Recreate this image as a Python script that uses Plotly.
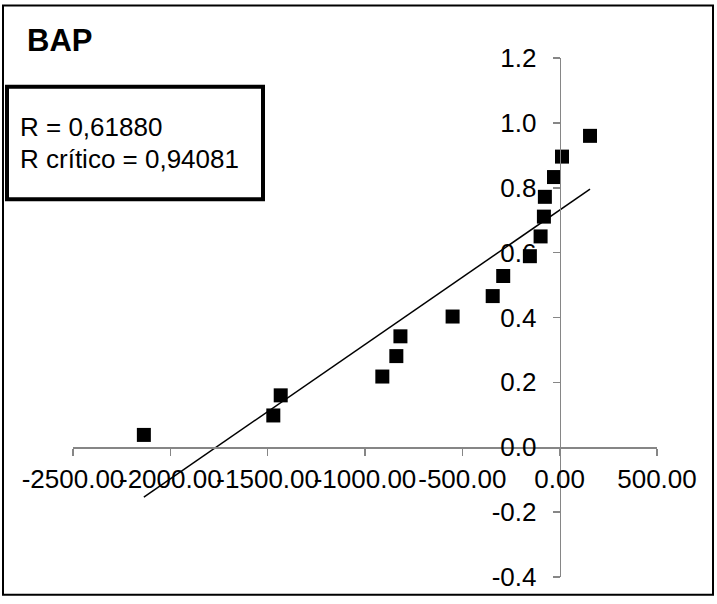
import numpy as np
import plotly.graph_objects as go

# ---- data ----
x_values = [-2136, -1471, -1433, -911, -839, -818, -550, -344, -290, -153,
            -98, -81, -76, -29, 12, 156]
y_values = [0.038, 0.098, 0.160, 0.218, 0.281, 0.342, 0.403, 0.466, 0.528,
            0.589, 0.650, 0.711, 0.772, 0.833, 0.896, 0.960]

x_tick_vals = [-2500, -2000, -1500, -1000, -500, 0, 500]
x_tick_text = ["-2500.00", "-2000.00", "-1500.00", "-1000.00", "-500.00", "0.00", "500.00"]
y_tick_vals = [-0.4, -0.2, 0.0, 0.2, 0.4, 0.6, 0.8, 1.0, 1.2]
y_tick_text = ["-0.4", "-0.2", "0.0", "0.2", "0.4", "0.6", "0.8", "1.0", "1.2"]

title_text = "BAP"
stats_lines = ["R = 0,61880", "R crítico = 0,94081"]

# ---- layout geometry (pixels) ----
W, H = 717, 604
L, R, T, B = 73, 60, 58, 21
PW, PH = W - L - R, H - T - B
XR = [-2500, 500]
YR = [-0.4, 1.2]


def px(xp):
    return (xp - L) / PW


def py(yp):
    return (H - B - yp) / PH


FONT = "Liberation Sans, Arial, sans-serif"
AXC = "#868686"

# linear trend from the data
slope, intercept = np.polyfit(x_values, y_values, 1)
x_line = [min(x_values), max(x_values)]
y_line = [slope * v + intercept for v in x_line]

fig = go.Figure()
fig.add_trace(go.Scatter(x=x_line, y=y_line, mode="lines",
                         line=dict(color="black", width=1.5),
                         showlegend=False, hoverinfo="skip"))
fig.add_trace(go.Scatter(x=x_values, y=y_values, mode="markers",
                         marker=dict(symbol="square", size=14, color="black",
                                     line=dict(width=0)),
                         showlegend=False))

fig.update_layout(
    width=W, height=H,
    margin=dict(l=L, r=R, t=T, b=B, pad=0),
    paper_bgcolor="white", plot_bgcolor="white",
    font=dict(family=FONT, color="black", size=26),
    xaxis=dict(range=XR, tickvals=x_tick_vals, ticktext=x_tick_text,
               tickangle=0, showgrid=False, zeroline=False,
               showline=True, linecolor=AXC, linewidth=1.5,
               ticks="outside", ticklen=7, tickcolor=AXC, tickwidth=1.5,
               anchor="free", position=(0 - YR[0]) / (YR[1] - YR[0]),
               tickfont=dict(size=26, family=FONT, color="black"),
               ticklabelstandoff=1),
    yaxis=dict(range=YR, tickvals=y_tick_vals, ticktext=y_tick_text,
               showgrid=False, zeroline=False,
               showline=True, linecolor=AXC, linewidth=1.5,
               ticks="outside", ticklen=7, tickcolor=AXC, tickwidth=1.5,
               anchor="free", position=(0 - XR[0]) / (XR[1] - XR[0]),
               side="left",
               tickfont=dict(size=26, family=FONT, color="black"),
               ticklabelstandoff=11),
)

# outer frame
fig.add_shape(type="rect", xref="paper", yref="paper",
              x0=px(3), x1=px(713), y0=py(601), y1=py(5),
              line=dict(color="black", width=2), layer="above")
# stats box
fig.add_shape(type="rect", xref="paper", yref="paper",
              x0=px(7), x1=px(263), y0=py(201), y1=py(87),
              line=dict(color="black", width=4), fillcolor="white", layer="above")

fig.add_annotation(text="<b>%s</b>" % title_text, xref="paper", yref="paper",
                   x=px(25), y=py(40), xanchor="left", yanchor="middle",
                   showarrow=False, font=dict(size=31, family=FONT, color="black"))
for i, s in enumerate(stats_lines):
    fig.add_annotation(text=s, xref="paper", yref="paper",
                       x=px(18), y=py(128 + 32 * i), xanchor="left", yanchor="middle",
                       showarrow=False, font=dict(size=26, family=FONT, color="black"))

fig.write_html("out.html",
               config={"displayModeBar": False, "staticPlot": True},
               post_script="document.body.style.margin='0';document.body.style.overflow='hidden';")
